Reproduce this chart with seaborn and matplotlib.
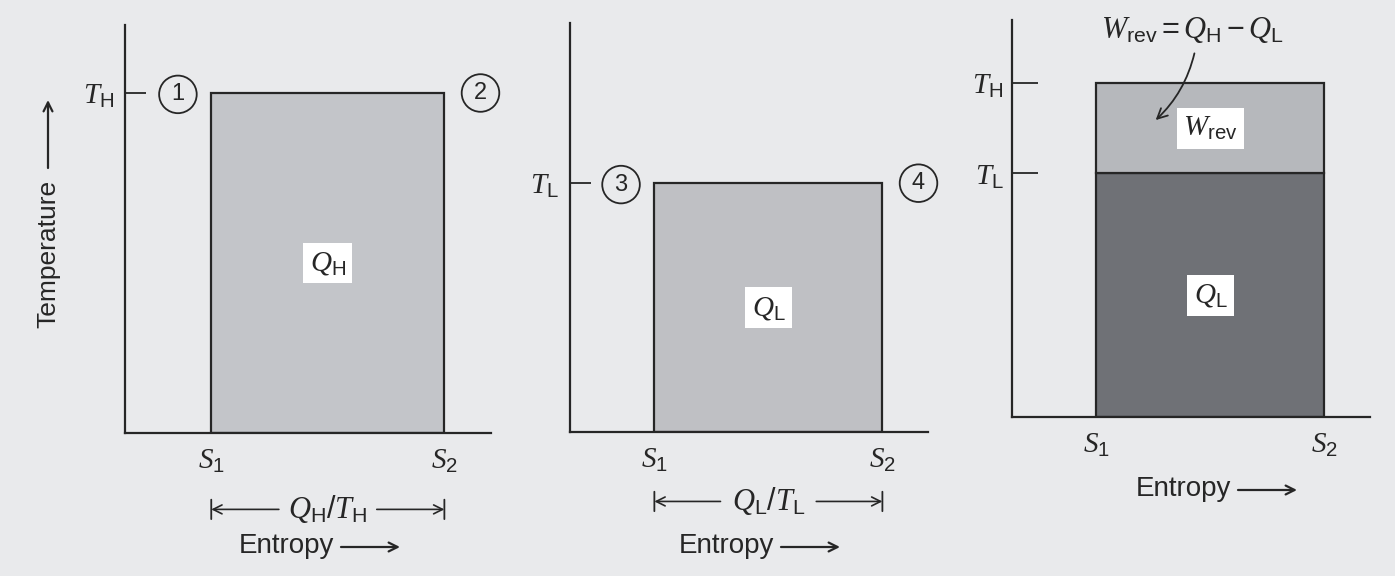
import matplotlib
matplotlib.use('Agg')
import matplotlib.pyplot as plt
import seaborn as sns

# ---------------- data ----------------
S1, S2 = 1.0, 2.0            # entropy states
T_H, T_L = 1.0, 0.73         # reservoir temperatures
entropy_ticks = [S1, S2]
entropy_labels = [r'$\mathit{S}_1$', r'$\mathit{S}_2$']
panel_T = [T_H, T_L]                         # top temperature of panels 1, 2
panel_T_labels = [r'$\mathit{T}_{\mathrm{H}}$', r'$\mathit{T}_{\mathrm{L}}$']
panel_states = [('1', '2'), ('3', '4')]
panel_area_labels = [r'$\mathit{Q}_{\mathrm{H}}$', r'$\mathit{Q}_{\mathrm{L}}$']
panel_span_labels = [r'$\mathit{Q}_{\mathrm{H}}/\mathit{T}_{\mathrm{H}}$',
                     r'$\mathit{Q}_{\mathrm{L}}/\mathit{T}_{\mathrm{L}}$']
panel3_T = [T_L, T_H]
panel3_T_labels = [r'$\mathit{T}_{\mathrm{L}}$', r'$\mathit{T}_{\mathrm{H}}$']

# ---------------- style ----------------
BG = '#e9eaec'
INK = '#262626'
FILLS = ['#c3c5c9', '#bfc0c4']
FILL_W = '#b6b8bc'
FILL_QL = '#6f7176'

sns.set_theme(style='white', rc={'axes.facecolor': BG, 'figure.facecolor': BG})
plt.rcParams['font.family'] = ['Liberation Sans', 'DejaVu Sans']
plt.rcParams['mathtext.fontset'] = 'custom'
plt.rcParams['mathtext.rm'] = 'Liberation Sans'
plt.rcParams['mathtext.it'] = 'Liberation Serif:italic'
plt.rcParams['mathtext.cal'] = 'Liberation Serif:italic'

W, H = 1395, 576
fig = plt.figure(figsize=(W / 100, H / 100), dpi=100)
fig.patch.set_facecolor(BG)

def px_axes(left, right, bottom, top):
    return fig.add_axes([left / W, 1 - bottom / H, (right - left) / W, (bottom - top) / H])

axes = [px_axes(125, 491, 433, 25), px_axes(570, 928, 432, 23), px_axes(1012, 1370, 417, 20)]
ylims = [1.2, 1.2, 1.19]

for ax, ytop in zip(axes, ylims):
    ax.set_facecolor(BG)
    ax.set_xlim(0.63, 2.2)
    ax.set_ylim(0, ytop)
    sns.despine(ax=ax)
    for s in ('left', 'bottom'):
        ax.spines[s].set_color(INK)
        ax.spines[s].set_linewidth(1.6)
    ax.set_xticks(entropy_ticks)
    ax.set_xticklabels(entropy_labels, fontsize=21, color=INK)
    ax.tick_params(axis='x', bottom=False, length=0, pad=10)
    ax.grid(False)

# ---------- panels 1 & 2 ----------
for i in range(2):
    ax = axes[i]
    T = panel_T[i]
    ax.bar(S1, T, width=S2 - S1, align='edge', color=FILLS[i], edgecolor=INK, linewidth=1.6, zorder=2)
    ax.set_yticks([T])
    ax.set_yticklabels([panel_T_labels[i]], fontsize=21, color=INK)
    ax.tick_params(axis='y', left=True, direction='in', length=15, width=1.3, color=INK, pad=8)
    a, b = panel_states[i]
    circ = dict(boxstyle='circle,pad=0.33', fc='none', ec=INK, lw=1.3)
    ax.annotate(a, xy=(S1, T), xytext=(-24, -1), textcoords='offset points', ha='center', va='center',
                fontsize=17, color=INK, bbox=circ)
    ax.annotate(b, xy=(S2, T), xytext=(26, 0), textcoords='offset points', ha='center', va='center',
                fontsize=17, color=INK, bbox=circ)
    ax.text((S1 + S2) / 2, T / 2, panel_area_labels[i], ha='center', va='center', fontsize=21, color=INK,
            bbox=dict(boxstyle='square,pad=0.22', fc='white', ec='none'), zorder=3)
    # dimension line Q/T under the axis
    yoff = -55 if i == 0 else -50
    co = ('data', 'axes points')
    ax.annotate(panel_span_labels[i], xy=((S1 + S2) / 2, yoff), xycoords=co, ha='center', va='center',
                fontsize=22, color=INK, annotation_clip=False)
    ax.annotate('', xy=(S1, yoff), xytext=(S1 + 0.29, yoff), xycoords=co, textcoords=co,
                arrowprops=dict(arrowstyle='->', lw=1.2, color=INK, shrinkA=0, shrinkB=0, mutation_scale=16),
                annotation_clip=False)
    ax.annotate('', xy=(S2, yoff), xytext=(S2 - 0.29, yoff), xycoords=co, textcoords=co,
                arrowprops=dict(arrowstyle='->', lw=1.2, color=INK, shrinkA=0, shrinkB=0, mutation_scale=16),
                annotation_clip=False)
    for sx in (S1, S2):
        ax.annotate('', xy=(sx, yoff - 7), xytext=(sx, yoff + 7), xycoords=co, textcoords=co,
                    arrowprops=dict(arrowstyle='-', lw=1.3, color=INK, shrinkA=0, shrinkB=0),
                    annotation_clip=False)

# ---------- panel 3 ----------
ax = axes[2]
ax.bar(S1, T_L, width=S2 - S1, align='edge', color=FILL_QL, edgecolor=INK, linewidth=1.6, zorder=2)
ax.bar(S1, T_H - T_L, bottom=T_L, width=S2 - S1, align='edge', color=FILL_W, edgecolor=INK,
       linewidth=1.6, zorder=2)
ax.set_yticks(panel3_T)
ax.set_yticklabels(panel3_T_labels, fontsize=21, color=INK)
ax.tick_params(axis='y', left=True, direction='in', length=19, width=1.3, color=INK, pad=6)
ax.text((S1 + S2) / 2, (T_L + T_H) / 2, r'$\mathit{W}_{\mathrm{rev}}$', ha='center', va='center',
        fontsize=21, color=INK, bbox=dict(boxstyle='square,pad=0.22', fc='white', ec='none'), zorder=3)
ax.text((S1 + S2) / 2, T_L / 2, r'$\mathit{Q}_{\mathrm{L}}$', ha='center', va='center',
        fontsize=21, color=INK, bbox=dict(boxstyle='square,pad=0.22', fc='white', ec='none'), zorder=3)
ax.annotate('', xy=(1.26, 0.89), xytext=(1.43, 1.09),
            arrowprops=dict(arrowstyle='->', lw=1.3, color=INK, mutation_scale=18,
                            connectionstyle='arc3,rad=-0.15', shrinkA=0, shrinkB=0),
            annotation_clip=False, zorder=4)
fig.text(1192 / W, 1 - 30 / H,
         r'$\mathit{W}_{\mathrm{rev}}=\mathit{Q}_{\mathrm{H}}-\mathit{Q}_{\mathrm{L}}$',
         ha='center', va='center', fontsize=22, color=INK)

# ---------- axis captions ----------
def entropy_caption(x_text_right, y):
    fig.text(x_text_right / W, 1 - y / H, 'Entropy', ha='right', va='center', fontsize=20, color=INK)
    fig.add_artist(matplotlib.patches.FancyArrowPatch(
        ((x_text_right + 7) / W, 1 - (y + 1) / H), ((x_text_right + 66) / W, 1 - (y + 1) / H),
        transform=fig.transFigure, arrowstyle='->', mutation_scale=16, lw=1.6, color=INK,
        shrinkA=0, shrinkB=0))

entropy_caption(334, 546)
entropy_caption(774, 546)
entropy_caption(1231, 489)

fig.text(48 / W, 1 - 180 / H, 'Temperature', ha='center', va='top', rotation=90,
         fontsize=19, color=INK)
fig.add_artist(matplotlib.patches.FancyArrowPatch(
    (48 / W, 1 - 168 / H), (48 / W, 1 - 100 / H), transform=fig.transFigure,
    arrowstyle='->', mutation_scale=16, lw=1.6, color=INK, shrinkA=0, shrinkB=0))

fig.savefig('out.png', dpi=100, facecolor=BG)
